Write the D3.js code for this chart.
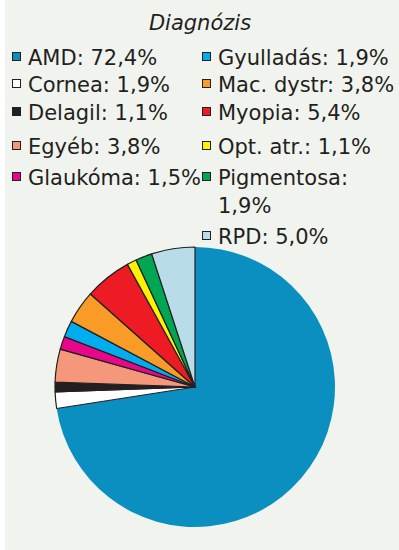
<!DOCTYPE html>
<html>
<head>
<meta charset="utf-8">
<script src="https://cdn.jsdelivr.net/npm/d3@7"></script>
<style>
  html, body { margin: 0; padding: 0; background: #ffffff; }
  svg { display: block; }
  text { font-family: "DejaVu Sans", sans-serif; fill: #231f20; }
</style>
</head>
<body>
<script>
// Diagnosis categories and their shares (%)
const categories = ["AMD", "Cornea", "Delagil", "Egyéb", "Glaukóma", "Gyulladás",
                    "Mac. dystr", "Myopia", "Opt. atr.", "Pigmentosa", "RPD"];
const values = [72.4, 1.9, 1.1, 3.8, 1.5, 1.9, 3.8, 5.4, 1.1, 1.9, 5.0];
const valueLabels = ["72,4%", "1,9%", "1,1%", "3,8%", "1,5%", "1,9%",
                     "3,8%", "5,4%", "1,1%", "1,9%", "5,0%"];
const colors = ["#0b8fc0", "#ffffff", "#231f20", "#f5977a", "#e6078b", "#00aeef",
                "#f89c27", "#ed1c24", "#fff200", "#00a651", "#b8dce8"];
const title = "Diagnózis";

const W = 399, H = 550;
const svg = d3.select("body").append("svg").attr("width", W).attr("height", H);

// panel background
svg.append("rect").attr("x", 5).attr("y", 0).attr("width", W - 5).attr("height", H)
  .attr("fill", "#f1f4ee");

// title
svg.append("text").attr("x", 200).attr("y", 30).attr("text-anchor", "middle")
  .attr("font-size", 21).attr("font-style", "italic").text(title);

// legend: two columns, rows placed on a fixed baseline grid
const rowY = [65, 92, 120, 154, 185];
const legendItems = categories.map((c, i) => ({ name: c, label: valueLabels[i], color: colors[i], i }));
const legend = svg.append("g");
legendItems.forEach((d, i) => {
  const col = i < 5 ? 0 : 1;
  const row = col === 0 ? i : i - 5;
  const x0 = col === 0 ? 12 : 202;
  let y0;
  if (row < 5) y0 = rowY[row];
  else y0 = 244; // last item sits below the wrapped Pigmentosa entry
  const g = legend.append("g");
  g.append("rect").attr("x", x0 + 0.5).attr("y", y0 - 12.5).attr("width", 8).attr("height", 8)
    .attr("fill", d.color).attr("stroke", "#231f20").attr("stroke-width", 1);
  if (d.name === "Pigmentosa") {
    g.append("text").attr("x", x0 + 16).attr("y", y0).attr("font-size", 21).text(d.name + ":");
    g.append("text").attr("x", x0 + 16).attr("y", y0 + 28).attr("font-size", 21).text(d.label);
  } else {
    g.append("text").attr("x", x0 + 16).attr("y", y0).attr("font-size", 21).text(d.name + ": " + d.label);
  }
});

// pie
const cx = 195, cy = 387, r = 140;
const pie = d3.pie().sort(null).value(d => d)(values);
const arc = d3.arc().innerRadius(0).outerRadius(r);
const pg = svg.append("g").attr("transform", `translate(${cx},${cy})`);
pg.selectAll("path").data(pie).join("path")
  .attr("d", arc)
  .attr("fill", (d, i) => colors[i])
  .attr("stroke", (d, i) => i === 0 ? "none" : "#231f20")
  .attr("stroke-width", 1.2)
  .attr("stroke-linejoin", "round");
</script>
</body>
</html>
